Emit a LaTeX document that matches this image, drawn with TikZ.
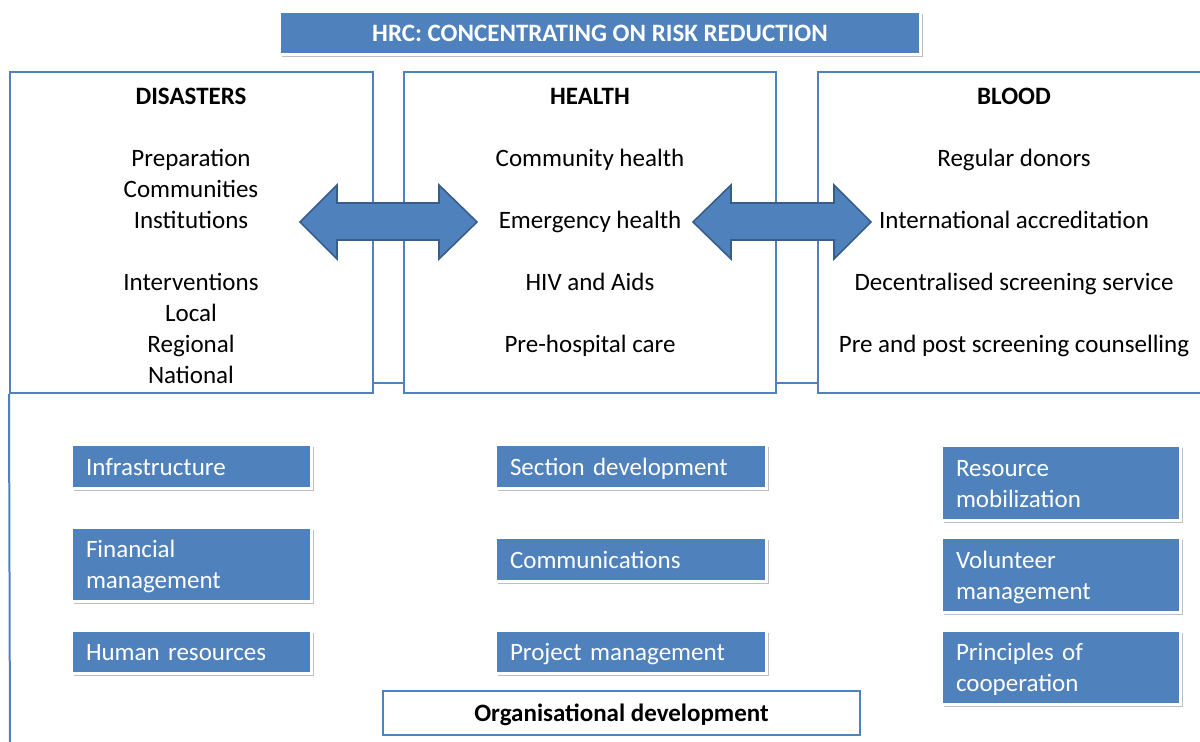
\documentclass[tikz,border=0pt]{standalone}
\usepackage{fontspec}
\setmainfont{Carlito}
\usetikzlibrary{shadows}
\definecolor{ofblue}{HTML}{4F81BD}
\definecolor{ofdark}{HTML}{385D8A}
\newcommand{\topstrut}{\rule{0pt}{12pt}}
\newcommand{\botstrut}{\rule[-3pt]{0pt}{3pt}}
\begin{document}
\begin{tikzpicture}[x=0.5pt,y=-0.5pt,
  every node/.style={font=\fontsize{12.5}{15.5}\selectfont},
  bigbox/.style={draw=ofblue,line width=1pt,fill=white,minimum height=160.5pt,inner sep=0pt},
  bluebox/.style={fill=ofblue,draw=white,line width=1.5pt,text=white,align=left,
    inner xsep=7.25pt,inner ysep=0pt,text width=#1,
    execute at begin node=\topstrut, execute at end node=\botstrut,
    drop shadow={shadow xshift=1pt,shadow yshift=-1.5pt,fill=black,opacity=0.25}},
  titlebox/.style={fill=ofblue,draw=white,line width=1.5pt,text=white,font=\fontsize{12.5}{15.5}\selectfont\bfseries,
    inner sep=0pt,minimum width=320.5pt,minimum height=21.5pt,
    execute at begin node=\topstrut, execute at end node=\botstrut,
    drop shadow={shadow xshift=1pt,shadow yshift=-1.5pt,fill=black,opacity=0.25}},
  orgbox/.style={draw=ofblue,line width=1pt,fill=white,font=\fontsize{12.5}{15.5}\selectfont\bfseries,
    inner sep=0pt,minimum width=238.5pt,minimum height=22pt,
    execute at begin node=\topstrut, execute at end node=\botstrut},
  txt/.style={anchor=base,inner sep=0pt},
  head/.style={anchor=base,inner sep=0pt,font=\fontsize{12.5}{15.5}\selectfont\bfseries},
  conn/.style={draw=ofblue,line width=1pt},
  bigarrow/.style={fill=ofblue,draw=ofdark,line width=0.8pt,line join=miter}
]
\useasboundingbox (0,0) rectangle (1200,742);

\coordinate (lb) at (10,750);

% main boxes
\node[bigbox,minimum width=181.5pt] (dis) at (191.5,232.5) {};
\node[bigbox,minimum width=186pt] (hea) at (590,232.5) {};
\node[bigbox,minimum width=211pt] (blo) at (1029,232.5) {};

\draw[conn] ([yshift=5.5pt]dis.south east) -- ([yshift=5.5pt]hea.south west);
\draw[conn] ([yshift=5.5pt]hea.south east) -- ([yshift=5.5pt]blo.south west);
\draw[conn] (dis.south west) -- (lb);

% title
\node[titlebox] (title) at (600,33) {HRC: CONCENTRATING ON RISK REDUCTION};

% disasters text
\node[head] (d0) at (191,105) {DISASTERS};
\node[txt] (d1) at (191,167) {Preparation};
\node[txt] (d2) at (191,198) {Communities};
\node[txt] (d3) at (191,229) {Institutions};
\node[txt] (d4) at (191,291) {Interventions};
\node[txt] (d5) at (191,322) {Local};
\node[txt] (d6) at (191,353) {Regional};
\node[txt] (d7) at (191,384) {National};

% health text
\node[head] (h0) at (590,105) {HEALTH};
\node[txt] (h1) at (590,167) {Community health};
\node[txt] (h2) at (590,229) {Emergency health};
\node[txt] (h3) at (590,291) {HIV and Aids};
\node[txt] (h4) at (590,353) {Pre-hospital care};

% blood text
\node[head] (b0) at (1014,105) {BLOOD};
\node[txt] (b1) at (1014,167) {Regular donors};
\node[txt] (b2) at (1014,229) {International accreditation};
\node[txt] (b3) at (1014,291) {Decentralised screening service};
\node[txt] (b4) at (1014,353) {Pre and post screening counselling};

% double arrows
\draw[bigarrow] (300,222) -- (337,185) -- (337,203) -- (439,203) -- (439,185) -- (477,222)
  -- (439,259) -- (439,240) -- (337,240) -- (337,259) -- cycle;
\draw[bigarrow] (693,222) -- (731,185) -- (731,203) -- (834,203) -- (834,185) -- (871,222)
  -- (834,259) -- (834,240) -- (731,240) -- (731,259) -- cycle;

% blue boxes left
\node[bluebox=105.5pt,minimum height=22pt] (inf) at (191.5,466.5) {Infrastructure};
\node[bluebox=105.5pt,minimum height=37pt] (fin) at (191.5,564.5) {Financial\\management};
\node[bluebox=105.5pt,minimum height=21.5pt] (hum) at (191.5,652) {Human resources};

% blue boxes middle
\node[bluebox=121pt,minimum height=22pt] (sec) at (631,466.5) {Section development};
\node[bluebox=121pt,minimum height=22pt] (com) at (631,559.5) {Communications};
\node[bluebox=121pt,minimum height=21.5pt] (pro) at (631,652) {Project management};

% blue boxes right
\node[bluebox=105pt,minimum height=37.5pt] (res) at (1061,483) {Resource\\mobilization};
\node[bluebox=105pt,minimum height=37.5pt] (vol) at (1061,575) {Volunteer\\management};
\node[bluebox=105pt,minimum height=37pt] (pri) at (1061,667.5) {Principles of\\cooperation};

% organisational development
\node[orgbox] (org) at (621.5,713) {Organisational development};
\end{tikzpicture}
\end{document}
